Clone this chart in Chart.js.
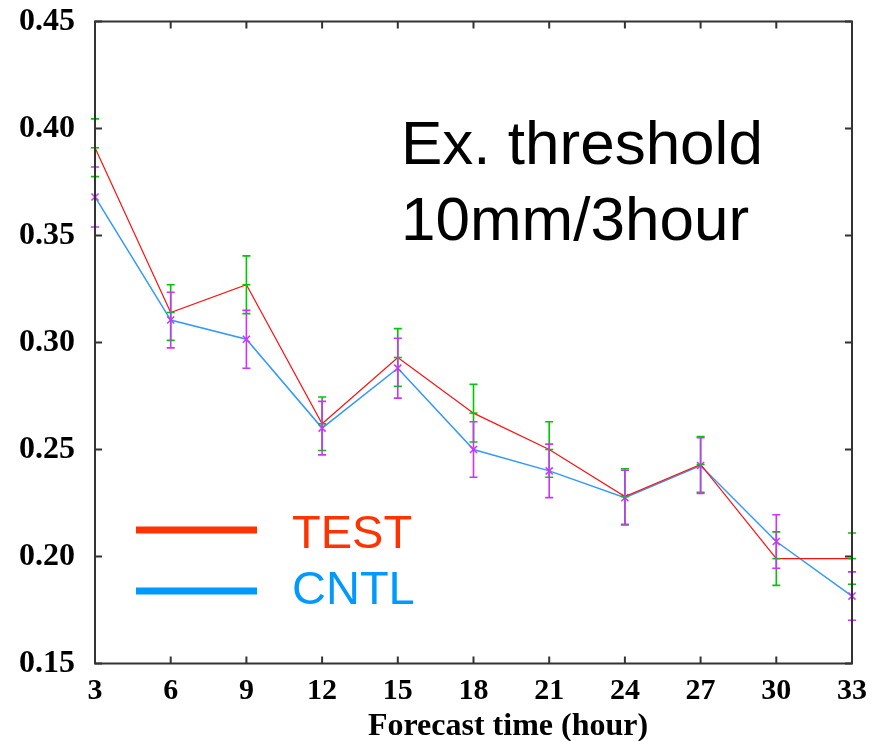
<!DOCTYPE html>
<html>
<head>
<meta charset="utf-8">
<script src="https://cdn.jsdelivr.net/npm/chart.js@4"></script>
<style>
body{margin:0;background:#fff;}
canvas{display:block;}
</style>
</head>
<body>
<canvas id="chart" width="872" height="741"></canvas>
<script>

const hours=[3,6,9,12,15,18,21,24,27,30,33];

const testVals=[0.391,0.314,0.327,0.262,0.293,0.267,0.250,0.228,0.243,0.199,0.199];
const testErr=[0.0135,0.013,0.0135,0.0125,0.0135,0.0135,0.013,0.013,0.013,0.0125,0.012];

const cntlVals=[0.368,0.3105,0.3015,0.260,0.288,0.250,0.240,0.2275,0.2425,0.207,0.1815];
const cntlErr=[0.014,0.013,0.0135,0.0125,0.014,0.013,0.0125,0.0128,0.013,0.0125,0.0113];

const noteLines=["Ex. threshold","10mm/3hour"];
const xTitle="Forecast time (hour)";

const tickFont="Liberation Serif";
const textFont="Liberation Sans";

// error bars, in the colours of the point markers
const errorBars={
    id:"errorBars",
    afterDatasetsDraw(chart){
        const {ctx,scales:{x,y}}=chart;
        const sets=[
            {vals:testVals,errs:testErr,color:"#00C800"},
            {vals:cntlVals,errs:cntlErr,color:"#CC33FF"}
        ];
        ctx.save();
        ctx.lineWidth=1.6;
        sets.forEach(s=>{
            ctx.strokeStyle=s.color;
            s.vals.forEach((v,i)=>{
                const px=x.getPixelForValue(hours[i]);
                const top=y.getPixelForValue(v+s.errs[i]);
                const bot=y.getPixelForValue(v-s.errs[i]);
                ctx.beginPath();
                ctx.moveTo(px,top);ctx.lineTo(px,bot);
                ctx.moveTo(px-4,top);ctx.lineTo(px+4,top);
                ctx.moveTo(px-4,bot);ctx.lineTo(px+4,bot);
                ctx.stroke();
            });
        });
        ctx.restore();
    }
};

// box round the plot with ticks pointing inwards
const frame={
    id:"frame",
    afterDraw(chart){
        const {ctx,chartArea:a,scales:{x,y}}=chart;
        ctx.save();
        ctx.strokeStyle="#333";
        ctx.lineWidth=2;
        ctx.beginPath();
        x.ticks.forEach(t=>{
            const px=x.getPixelForValue(t.value);
            ctx.moveTo(px,a.bottom);ctx.lineTo(px,a.bottom-7);
            ctx.moveTo(px,a.top);ctx.lineTo(px,a.top+7);
        });
        y.ticks.forEach(t=>{
            const py=y.getPixelForValue(t.value);
            ctx.moveTo(a.left,py);ctx.lineTo(a.left+7,py);
            ctx.moveTo(a.right,py);ctx.lineTo(a.right-7,py);
        });
        ctx.stroke();
        ctx.strokeRect(a.left,a.top,a.right-a.left,a.bottom-a.top);
        ctx.restore();
    }
};

// legend, the note inside the plot and the axis title
const notes={
    id:"notes",
    afterDraw(chart){
        const ctx=chart.ctx;
        const legendColors=["#FF3300","#0099FF"];
        const rows=[{y:530,base:548},{y:591,base:604}];
        ctx.save();
        chart.data.datasets.forEach((ds,i)=>{
            ctx.fillStyle=legendColors[i];
            ctx.fillRect(136,rows[i].y-3.5,121,7);
            ctx.font="47px '"+textFont+"'";
            ctx.textBaseline="alphabetic";
            ctx.fillText(ds.label,292,rows[i].base);
        });
        ctx.fillStyle="#000";
        ctx.font="62px '"+textFont+"'";
        ctx.fillText(noteLines[0],401,164);
        ctx.fillText(noteLines[1],401,240);

        ctx.font="bold 32px '"+tickFont+"'";
        ctx.textAlign="center";
        ctx.textBaseline="middle";
        ctx.fillText(xTitle,508,727);
        ctx.restore();
    }
};

new Chart(document.getElementById("chart"),{
    type:"line",
    data:{
        datasets:[
            {
                label:"TEST",
                data:hours.map((h,i)=>({x:h,y:testVals[i]})),
                borderColor:"#FF1010",
                borderWidth:1.2,
                pointStyle:"line",
                pointRadius:4,
                pointBorderColor:"#00C800",
                pointBorderWidth:1.6,
                tension:0,
                clip:false
            },
            {
                label:"CNTL",
                data:hours.map((h,i)=>({x:h,y:cntlVals[i]})),
                borderColor:"#3399FF",
                borderWidth:1.5,
                pointStyle:"crossRot",
                pointRadius:5,
                pointBorderColor:"#CC33FF",
                pointBorderWidth:1.5,
                tension:0,
                clip:false
            }
        ]
    },
    options:{
        responsive:false,
        animation:false,
        events:[],
        layout:{padding:{left:0,right:20,top:21.5,bottom:0}},
        plugins:{
            legend:{display:false},
            tooltip:{enabled:false}
        },
        scales:{
            x:{
                type:"linear",
                min:3,
                max:33,
                grid:{display:false,drawTicks:false},
                border:{display:false},
                ticks:{
                    stepSize:3,
                    padding:10,
                    color:"#000",
                    maxRotation:0,
                    font:{family:tickFont,size:30,weight:"bold"}
                },
                afterFit(scale){
                    scale.height=77.5;
                    scale.paddingLeft=0;
                    scale.paddingRight=0;
                }
            },
            y:{
                min:0.15,
                max:0.45,
                grid:{display:false,drawTicks:false},
                border:{display:false},
                ticks:{
                    stepSize:0.05,
                    padding:20,
                    color:"#000",
                    font:{family:tickFont,size:32,weight:"bold"},
                    callback:v=>v.toFixed(2)
                },
                afterFit(scale){
                    scale.width=95;
                    scale.paddingTop=0;
                    scale.paddingBottom=0;
                }
            }
        }
    },
    plugins:[errorBars,frame,notes]
});

</script>
</body>
</html>
